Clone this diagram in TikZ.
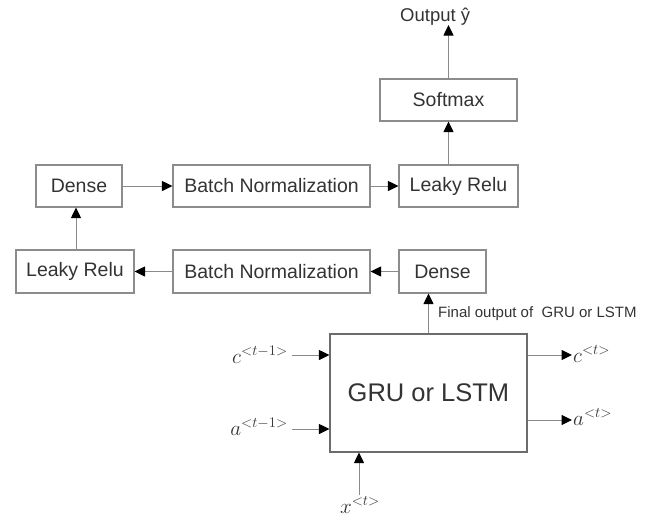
\documentclass[tikz,border=0pt]{standalone}
\usepackage{fix-cm}
\usepackage[no-math]{fontspec}
\setmainfont{Liberation Sans}
\usetikzlibrary{arrows.meta}

\definecolor{boxgray}{HTML}{8C8C8C}
\definecolor{linegray}{HTML}{8A8A8A}
\definecolor{txt}{HTML}{333333}

\begin{document}
\begin{tikzpicture}[x=1pt, y=-1pt,
  box/.style={draw=boxgray, line width=1.1pt, minimum height=42pt, inner sep=0pt,
              text=txt, font=\fontsize{19.5}{22}\selectfont},
  conn/.style={draw=linegray, line width=1pt,
               -{Triangle[length=10.5pt, width=10pt, color=black]}},
  lbl/.style={inner sep=0pt, text=txt, font=\fontsize{21}{25}\selectfont},
  note/.style={inner sep=0pt, text=txt, font=\fontsize{15}{18}\selectfont}]

\useasboundingbox (0,0) rectangle (664,520);

% upper stack
\node[note, font=\fontsize{18.5}{22}\selectfont, anchor=base west] (out) at (400,21) {Output ŷ};
\node[box, minimum width=137pt] (softmax) at (448.5,100) {Softmax};
\node[box, minimum width=86pt]  (d1)  at (79,186)    {Dense};
\node[box, minimum width=197pt] (bn1) at (271.5,186) {Batch Normalization};
\node[box, minimum width=119pt] (lr2) at (458.5,186) {Leaky Relu};

% lower stack
\node[box, minimum width=118pt, minimum height=43pt] (lr1) at (75,271.5)  {Leaky Relu};
\node[box, minimum width=197pt, minimum height=43pt] (bn2) at (271.5,271.5) {Batch Normalization};
\node[box, minimum width=87pt,  minimum height=43pt] (d2)  at (442.5,271.5) {Dense};

% recurrent cell
\node[box, draw=gray!85!black, minimum width=197pt, minimum height=118pt,
      font=\fontsize{25.5}{30}\selectfont] (gru) at (428.5,393) {GRU or LSTM};
\node[note, anchor=base west] (fin) at (438,317) {Final output of\ \ GRU or LSTM};

% cell inputs and outputs
\coordinate (cinS)  at (292,355);
\coordinate (ainS)  at (292,429);
\coordinate (coutE) at (572,355);
\coordinate (aoutE) at (572,420);
\coordinate (xinS)  at (359,495);
\node[lbl, anchor=base east] (cinL)  at (288,363) {$c^{<t-1>}$};
\node[lbl, anchor=base east] (ainL)  at (288,435) {$a^{<t-1>}$};
\node[lbl, anchor=base west] (coutL) at (573,362) {$c^{<t>}$};
\node[lbl, anchor=base west] (aoutL) at (573,425) {$a^{<t>}$};
\node[lbl, anchor=base]      (xinL)  at (360,513) {$x^{<t>}$};

% connectors
\draw[conn] (softmax.north) -- (softmax.north |- out.south);
\draw[conn] (lr2.north -| softmax.south) -- (softmax.south);
\draw[conn] (d1.east) -- (bn1.west);
\draw[conn] (bn1.east) -- (lr2.west);
\draw[conn] (d2.west) -- (bn2.east);
\draw[conn] (bn2.west) -- (lr1.east);
\draw[conn] (lr1.north -| 76,0) -- (d1.south -| 76,0);
\draw[conn] (gru.north) -- (gru.north |- d2.south);
\draw[conn] (cinS) -- (cinS -| gru.west);
\draw[conn] (ainS) -- (ainS -| gru.west);
\draw[conn] (coutE -| gru.east) -- (coutE);
\draw[conn] (aoutE -| gru.east) -- (aoutE);
\draw[conn] (xinS) -- (xinS |- gru.south);
\end{tikzpicture}
\end{document}
